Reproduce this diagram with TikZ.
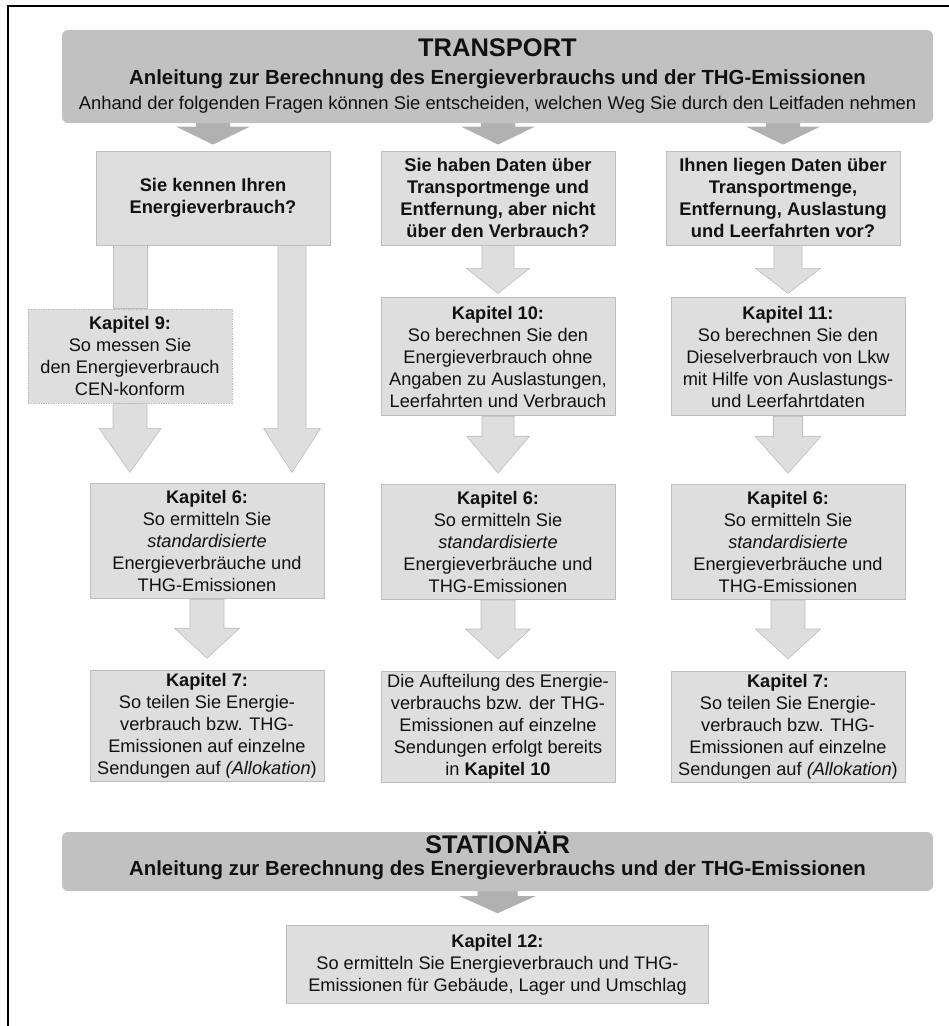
\documentclass[tikz,border=0pt]{standalone}
\usepackage{fontspec}
\setmainfont{Liberation Sans}
\usetikzlibrary{positioning,calc,backgrounds}
\definecolor{boxgray}{HTML}{DEDEDE}
\definecolor{linegray}{HTML}{BDBDBD}
\definecolor{bannergray}{HTML}{C1C1C1}
\definecolor{arrowdark}{HTML}{B1B1B1}
\definecolor{txt}{HTML}{111111}
\newcommand{\blkarrow}[6]{%
  \path[#1] let \p1=(#2), \p2=(#3) in
    ({\x1-#4pt},\y1) -- ({\x1+#4pt},\y1) -- ({\x1+#4pt},{\y2+#6pt}) -- ({\x1+#5pt},{\y2+#6pt})
    -- (\x1,\y2) -- ({\x1-#5pt},{\y2+#6pt}) -- ({\x1-#4pt},{\y2+#6pt}) -- cycle;}

\begin{document}
\begin{tikzpicture}[x=1pt, y=-1pt, font=\fontsize{18.2}{22}\selectfont, text=txt]
 	\tikzstyle{box}=[rectangle, fill=boxgray, draw=linegray, line width=0.8pt, align=center, inner sep=2pt, minimum width=234pt]
 	\tikzstyle{ask}=[box, font=\fontsize{18.3}{22}\selectfont\bfseries, minimum height=94pt]
 	\tikzstyle{dotbox}=[box, dash pattern=on 1.5pt off 1pt, minimum width=204pt, minimum height=94pt]
 	\tikzstyle{banner}=[rectangle, rounded corners=6pt, fill=bannergray, minimum width=871pt]
 	\tikzstyle{headtext}=[align=center, inner sep=0pt]
 	\tikzstyle{lightarrow}=[fill=boxgray, draw=linegray, line width=0.6pt]
 	\tikzstyle{darkarrow}=[fill=arrowdark]
 	\tikzstyle{outerline}=[line width=2pt, black]
 	\useasboundingbox (0,0) rectangle (949,1026);
 	\draw[outerline] (8,1026) -- (8,6) -- (949,6);
 	\node[banner, minimum height=93pt] (trans) at (497.5,76.5) {};
 	\node[headtext, anchor=south, font=\fontsize{18.4}{25.5}\selectfont] (transtxt) at (497.5,113.9) {{\fontsize{25.5}{26}\selectfont\bfseries TRANSPORT}\\[2pt] {\fontsize{20.4}{22}\selectfont\bfseries Anleitung zur Berechnung des Energieverbrauchs und der THG-Emissionen}\\ Anhand der folgenden Fragen können Sie entscheiden, welchen Weg Sie durch den Leitfaden nehmen};
 	\node[ask] (q1) at (213,198) {Sie kennen Ihren\\Energieverbrauch?};
 	\node[ask] (q2) at (498,198) {Sie haben Daten über\\Transportmenge und\\Entfernung, aber nicht\\über den Verbrauch?};
 	\node[ask] (q3) at (783,198) {Ihnen liegen Daten über\\Transportmenge,\\Entfernung, Auslastung\\und Leerfahrten vor?};
 		\node[dotbox] (k9) at (130,356) {\textbf{Kapitel 9:}\\So messen Sie\\den Energieverbrauch\\CEN-konform};
 	\node[box, minimum height=118pt, below=52pt of q2] (k10) {\textbf{Kapitel 10:}\\So berechnen Sie den\\Energieverbrauch ohne\\Angaben zu Auslastungen,\\Leerfahrten und Verbrauch};
 	\node[box, minimum height=118pt, below=52pt of q3, xshift=5pt] (k11) {\textbf{Kapitel 11:}\\So berechnen Sie den\\Dieselverbrauch von Lkw\\mit Hilfe von Auslastungs-\\und Leerfahrtdaten};
 	\node[box, minimum height=115pt, below=238pt of q1, xshift=-6pt] (k6a) {\textbf{Kapitel 6:}\\So ermitteln Sie\\\textit{standardisierte}\\Energieverbräuche und\\THG-Emissionen};
 	\node[box, minimum height=115pt, below=68pt of k10] (k6b) {\textbf{Kapitel 6:}\\So ermitteln Sie\\\textit{standardisierte}\\Energieverbräuche und\\THG-Emissionen};
 	\node[box, minimum height=115pt, below=68pt of k11] (k6c) {\textbf{Kapitel 6:}\\So ermitteln Sie\\\textit{standardisierte}\\Energieverbräuche und\\THG-Emissionen};
 		\node[box, minimum height=111pt, below=71pt of k6a] (k7a) {\textbf{Kapitel 7:}\\So teilen Sie Energie-\\verbrauch bzw. THG-\\Emissionen auf einzelne\\Sendungen auf \textit{(Allokation})};
 		\node[box, minimum height=111pt, below=71pt of k6b] (k7b) {Die Aufteilung des Energie-\\verbrauchs bzw. der THG-\\Emissionen auf einzelne\\Sendungen erfolgt bereits\\in \textbf{Kapitel 10}};
 		\node[box, minimum height=111pt, below=71pt of k6c] (k7c) {\textbf{Kapitel 7:}\\So teilen Sie Energie-\\verbrauch bzw. THG-\\Emissionen auf einzelne\\Sendungen auf \textit{(Allokation})};
 	\node[banner, minimum height=59pt] (stat) at (497.5,861.5) {};
 	\node[headtext, anchor=south, font=\fontsize{20.4}{22}\selectfont] (stattxt) at (497.5,880.3) {{\fontsize{25.5}{26}\selectfont\bfseries STATIONÄR}\\ \textbf{Anleitung zur Berechnung des Energieverbrauchs und der THG-Emissionen}};
 	\node[box, minimum width=422pt, minimum height=78pt, below=34pt of stat] (k12) {\textbf{Kapitel 12:}\\So ermitteln Sie Energieverbrauch und THG-\\Emissionen für Gebäude, Lager und Umschlag};
 	\coordinate (q1r) at ([xshift=79pt]q1.south);
 	\begin{scope}[on background layer]
 	\blkarrow{darkarrow}{q1.north |- trans.south}{[yshift=6pt]q1.north}{17}{37}{18}
 	\blkarrow{darkarrow}{q2.north |- trans.south}{[yshift=6pt]q2.north}{17}{37}{18}
 	\blkarrow{darkarrow}{q3.north |- trans.south}{[yshift=6pt]q3.north}{17}{37}{18}
 	\blkarrow{darkarrow}{k12.north |- stat.south}{[yshift=12pt]k12.north}{20}{38}{17}
 	\blkarrow{lightarrow}{k9.north |- q1.south}{k9.north}{17}{17}{0}
 	\blkarrow{lightarrow}{k9.south}{[yshift=11pt]k6a.north}{17}{31}{44}
 	\blkarrow{lightarrow}{q1r}{[yshift=11pt]k6a.north}{14}{28.5}{44}
 	\blkarrow{lightarrow}{q2.south}{[yshift=4pt]k10.north}{16}{31.5}{25}
 	\blkarrow{lightarrow}{k11.north |- q3.south}{[yshift=4pt]k11.north}{14}{32.5}{25}
 	\blkarrow{lightarrow}{k10.south}{[yshift=11pt]k6b.north}{16}{31.5}{37}
 	\blkarrow{lightarrow}{k11.south}{[yshift=11pt]k6c.north}{14.5}{33}{37}
 	\blkarrow{lightarrow}{k6a.south}{[yshift=12pt]k7a.north}{17}{32.5}{30}
 	\blkarrow{lightarrow}{k6b.south}{[yshift=12pt]k7b.north}{17}{32.5}{30}
 	\blkarrow{lightarrow}{k6c.south}{[yshift=12pt]k7c.north}{17}{32.5}{30}
 	\end{scope}
\end{tikzpicture}
\end{document}
